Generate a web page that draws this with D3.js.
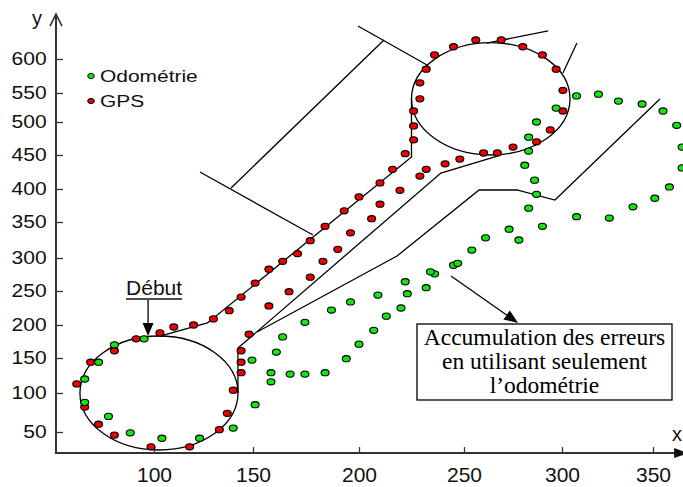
<!DOCTYPE html>
<html>
<head>
<meta charset="utf-8">
<script src="https://cdn.jsdelivr.net/npm/d3@7"></script>
<style>
  html, body { margin: 0; padding: 0; background: #fff; }
  svg { display: block; }
</style>
</head>
<body>
<svg id="chart" width="683" height="487"></svg>
<script>
// Axis ticks and extents (data units)
const xTicks = [100, 150, 200, 250, 300, 350];
const yTicks = [50, 100, 150, 200, 250, 300, 350, 400, 450, 500, 550, 600];
const xExtent = [50.5, 366];
const yExtent = [23, 666];

// GPS fixes (x, y)
const gpsPoints = [
  [144,161],[144,144],[144,129],[140,104],[137,74],[133,53],[118,31],[98.5,31],
  [80,46],[72,60],[65,82],[61,113],[68,144],[80,161],[91,179],[103,188],
  [110,197],[120,200],[130,209],[138,221],[144,241],[151,262],[157.5,283],[164,295],
  [171,306],[177,324],[184,344],[193,367],[200,388],[210,409],[216,429],[222,452],
  [226,473],[226,494],[226,519],[229,540],[229,565],[232,585],[236,606],[245,618],
  [256,628],[269,628],[280,618],[290,606],[297,585],[300.5,554],[300.5,519],[294,488],
  [287,470],[275,462],[267,453],[260,453],[248,444],[241,437],[232,429],[229,419],
  [219.5,398],[210,377],[206,355],[196,335],[190,312],[183,295],[177,271],[167,249],
  [157.5,228],[148,186]
];

// Odometry-only estimates (x, y)
const odoPoints = [
  [95,179],[80,170],[72,144],[65,120],[65,88],[77,70],[88,49],[104,42],
  [123,42],[140,55],[151,85],[149.5,147],[158.5,116],[158.5,129],[167.5,127],[174.5,127],
  [184,129],[194,149],[200,171],[207,192],[213,213],[220,225],[223,246],[232,255],
  [236,276],[234,279],[245,289],[247,292],[254,311],[261,328],[273,340],[278,325],
  [290,344],[308,358],[326,356],[339,373],[351,386],[359,403],[366,431],[366,462],
  [363,495],[355.5,519],[344,531],[331,536],[320,548],[308,545],[297,524],[287,500],
  [283,477],[283,456],[281,435],[286,413],[287,392],[283,371],
  [161,159],[164,182],[174.5,204],[187,222],[196,234],[209,244],[222,264]
];

// Reference trajectory: two loops (bounding boxes) and connecting segments
const lowerLoop = { x: [62.6, 142.4], y: [26.9, 183.3] };
const upperLoop = { x: [225, 304.4], y: [450, 624] };
const outboundTrack = [[103,183],[127,203],[225,447],[225,541]];
const lowerTangent = [[142.4,100],[142.4,165]];
const returnTrack = [[142.4,165],[239,423.5],[267,448.5]];
const driftTrack = [[151.9,189.4],[218.1,302.8],[257.7,398.5],[277,398.5],[296.4,383.3],[353.8,539.7]];
const guideLines = [
  [[123.2,425],[178.3,331.9]],
  [[199.5,648.5],[232.4,591.2]],
  [[138.9,401.5],[211.9,627.9]],
  [[261.7,623.5],[292.9,641.2]],
  [[300.5,579.4],[308.2,623.5]]
];

// Labels
const seriesNames = ["Odométrie", "GPS"];
const seriesColors = ["#12e612", "#ee0000"];
const startLabel = "Début";
const startPoint = [97, 183.3];
const noteLines = ["Accumulation des erreurs", "en utilisant seulement", "l\u2019odométrie"];
const noteArrow = [[243.8, 272.7], [277.6, 203]];

const svg = d3.select("#chart");
const sans = "'Liberation Sans', Arial, sans-serif";
const serif = "'Liberation Serif', 'Times New Roman', serif";

const x = d3.scaleLinear().domain(xTicks).range([154, 253, 359, 464, 562, 653]);
const y = d3.scaleLinear().domain(yTicks).range([432, 393, 358, 325, 291, 258, 222, 189, 155, 122, 93, 59]);

const x0 = x(xExtent[0]);
const y0 = y(yExtent[0]);

// ---- axes ----
const gY = svg.append("g")
  .attr("transform", `translate(${x0},0)`)
  .call(d3.axisLeft(y).tickValues(yTicks).tickSizeInner(-7).tickSizeOuter(0).tickPadding(8));
gY.select(".domain").remove();
gY.selectAll(".tick line").attr("stroke", "#333").attr("stroke-width", 1.3);
gY.selectAll(".tick text")
  .attr("font-family", sans).attr("font-size", 18).attr("fill", "#111")
  .attr("transform", "scale(1.17,1)");

const gX = svg.append("g")
  .attr("transform", `translate(0,${y0})`)
  .call(d3.axisBottom(x).tickValues(xTicks).tickSizeInner(-6).tickSizeOuter(0).tickPadding(14));
gX.select(".domain").remove();
gX.selectAll(".tick line").attr("stroke", "#333").attr("stroke-width", 1.3);
gX.selectAll(".tick text").attr("font-family", sans).attr("font-size", 21).attr("fill", "#111");

const yTop = y(yExtent[1]);
svg.append("line").attr("x1", x0).attr("x2", x0).attr("y1", y0 + 1).attr("y2", yTop)
  .attr("stroke", "#333").attr("stroke-width", 2);
svg.append("polyline")
  .attr("points", `${x0 - 6},${yTop + 12} ${x0},${yTop} ${x0 + 6},${yTop + 12}`)
  .attr("fill", "none").attr("stroke", "#333").attr("stroke-width", 1.6);
svg.append("text").attr("x", x0 - 24).attr("y", yTop + 11)
  .attr("font-family", sans).attr("font-size", 20).attr("fill", "#111").text("y");

const xEnd = x(xExtent[1]);
svg.append("line").attr("x1", x0 - 1).attr("x2", xEnd).attr("y1", y0).attr("y2", y0)
  .attr("stroke", "#333").attr("stroke-width", 2);
svg.append("polygon")
  .attr("points", `${xEnd - 8},${y0 - 5} ${xEnd + 6},${y0} ${xEnd - 8},${y0 + 5}`)
  .attr("fill", "#111");
svg.append("text").attr("x", xEnd - 10).attr("y", y0 - 12)
  .attr("font-family", sans).attr("font-size", 20).attr("fill", "#111").text("x");

// ---- reference trajectory ----
const line = d3.line().x(d => x(d[0])).y(d => y(d[1]));
const plot = svg.append("g").attr("fill", "none").attr("stroke", "#000").attr("stroke-width", 1.3);

[lowerLoop, upperLoop].forEach(b => {
  const cx = (x(b.x[0]) + x(b.x[1])) / 2, cy = (y(b.y[0]) + y(b.y[1])) / 2;
  plot.append("ellipse")
    .attr("cx", cx).attr("cy", cy)
    .attr("rx", Math.abs(x(b.x[1]) - x(b.x[0])) / 2)
    .attr("ry", Math.abs(y(b.y[0]) - y(b.y[1])) / 2);
});
[outboundTrack, lowerTangent, returnTrack, driftTrack, ...guideLines].forEach(p => {
  plot.append("path").attr("d", line(p));
});

// ---- data points ----
function dots(data, color) {
  svg.append("g").selectAll("ellipse").data(data).join("ellipse")
    .attr("cx", d => x(d[0])).attr("cy", d => y(d[1]))
    .attr("rx", 4).attr("ry", 3.1)
    .attr("fill", color).attr("stroke", "#000").attr("stroke-width", 1.1);
}
dots(gpsPoints, seriesColors[1]);
dots(odoPoints, seriesColors[0]);

// ---- legend ----
seriesNames.forEach((name, i) => {
  const ly = 76 + i * 25;
  svg.append("ellipse").attr("cx", 91).attr("cy", ly).attr("rx", 3.3).attr("ry", 2.6)
    .attr("fill", seriesColors[i]).attr("stroke", "#000").attr("stroke-width", 1);
  svg.append("text")
    .attr("transform", `translate(100,${ly + 6}) scale(1.27,1)`)
    .attr("font-family", sans).attr("font-size", 16.5).attr("fill", "#111")
    .text(name);
});

// ---- arrow helper ----
function arrowHead(tip, from, len, half) {
  const dx = tip[0] - from[0], dy = tip[1] - from[1];
  const L = Math.hypot(dx, dy), ux = dx / L, uy = dy / L;
  const bx = tip[0] - ux * len, by = tip[1] - uy * len;
  svg.append("polygon")
    .attr("points", `${tip[0]},${tip[1]} ${bx - uy * half},${by + ux * half} ${bx + uy * half},${by - ux * half}`)
    .attr("fill", "#000");
  return [bx, by];
}

// ---- start marker ----
const sp = [x(startPoint[0]), y(startPoint[1])];
const startText = svg.append("text")
  .attr("x", sp[0] + 6).attr("y", sp[1] - 41)
  .attr("text-anchor", "middle")
  .attr("font-family", sans).attr("font-size", 21).attr("fill", "#111")
  .text(startLabel);
const tw = startText.node().getComputedTextLength();
svg.append("line")
  .attr("x1", sp[0] + 6 - tw / 2).attr("x2", sp[0] + 6 + tw / 2)
  .attr("y1", sp[1] - 37).attr("y2", sp[1] - 37)
  .attr("stroke", "#111").attr("stroke-width", 1.3);
const sFrom = [sp[0], sp[1] - 36];
const sBase = arrowHead(sp, sFrom, 13, 5.5);
svg.append("line").attr("x1", sFrom[0]).attr("y1", sFrom[1]).attr("x2", sBase[0]).attr("y2", sBase[1])
  .attr("stroke", "#000").attr("stroke-width", 1.3);

// ---- annotation ----
const aFrom = [x(noteArrow[0][0]), y(noteArrow[0][1])];
const aTip = [x(noteArrow[1][0]), y(noteArrow[1][1])];
const aBase = arrowHead(aTip, aFrom, 14, 5.5);
svg.append("line").attr("x1", aFrom[0]).attr("y1", aFrom[1]).attr("x2", aBase[0]).attr("y2", aBase[1])
  .attr("stroke", "#000").attr("stroke-width", 1.3);

svg.append("rect").attr("x", 417).attr("y", 324).attr("width", 255).attr("height", 76)
  .attr("fill", "#fff").attr("stroke", "#000").attr("stroke-width", 1.3);
svg.append("g").selectAll("text").data(noteLines).join("text")
  .attr("x", 544.5).attr("y", (d, i) => 345 + i * 24)
  .attr("text-anchor", "middle")
  .attr("font-family", serif).attr("font-size", 23.5).attr("fill", "#000")
  .text(d => d);
</script>
</body>
</html>
